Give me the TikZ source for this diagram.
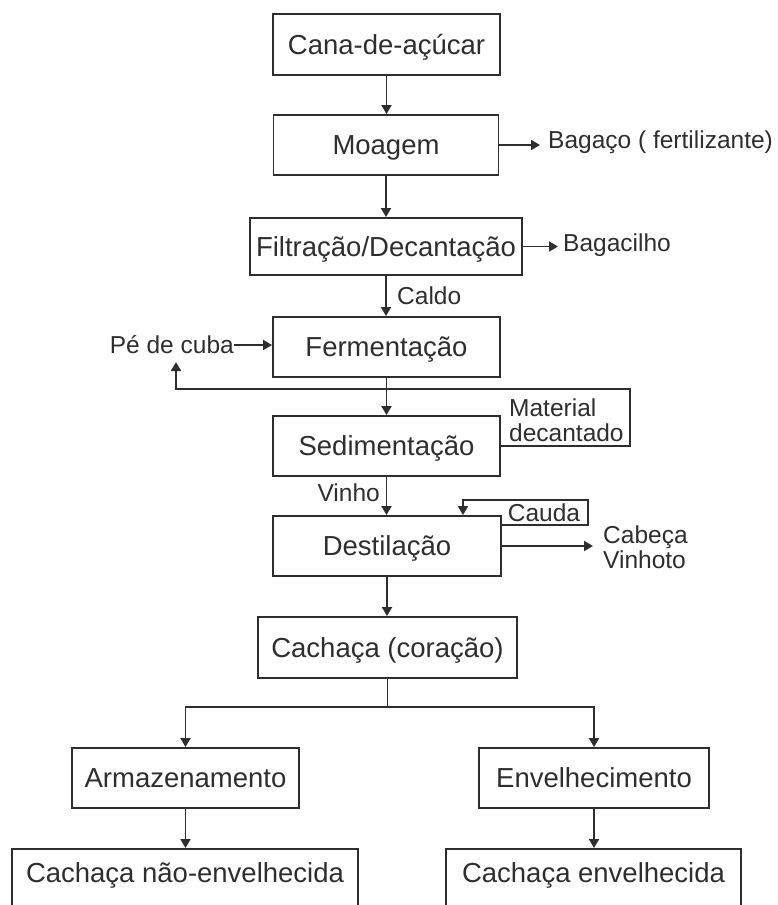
\documentclass[tikz,border=0pt]{standalone}
\usepackage{fontspec}
\setmainfont{Liberation Sans}
\usetikzlibrary{arrows.meta,calc}
\definecolor{ink}{HTML}{2E2E2E}
\begin{document}
\begin{tikzpicture}[x=1pt,y=-1pt,
  box/.style={draw=ink, line width=1.9pt, rectangle, inner sep=0pt, text height=19.5pt, text depth=0pt,
              font=\fontsize{27.5}{30}\selectfont, text=ink, align=center},
  lbl/.style={inner sep=0pt, font=\fontsize{24.5}{25}\selectfont, text=ink},
  arr/.style={draw=ink, line width=1.9pt, -{Triangle[length=9pt,width=10pt]}},
  ln/.style={draw=ink, line width=1.9pt}]
\useasboundingbox (0,0) rectangle (777,905);
\clip (0,0) rectangle (777,905);

% main column
\node[box, minimum width=227pt, minimum height=61pt] (cana)   at (386.5,44.5) {Cana-de-açúcar};
\node[box, minimum width=225pt, minimum height=60pt] (moagem) at (386,145)    {Moagem};
\node[box, minimum width=272pt, minimum height=57pt] (filt)   at (386,246.5)  {Filtração/Decantação};
\node[box, minimum width=227pt, minimum height=60pt] (ferm)   at (386.5,347)  {Fermentação};
\node[box, minimum width=227pt, minimum height=60pt] (sed)    at (386.5,446)  {Sedimentação};
\node[box, minimum width=228pt, minimum height=60pt] (dest)   at (387,546)    {Destilação};
\node[box, minimum width=259pt, minimum height=61pt] (cor)    at (387.5,647.5) {Cachaça (coração)};
\node[box, minimum width=227pt, minimum height=60pt] (arm)    at (185.5,778)  {Armazenamento};
\node[box, minimum width=230pt, minimum height=60pt] (env)    at (594,778)    {Envelhecimento};
\node[box, minimum width=346pt, anchor=north, inner ysep=14.5pt, text depth=60pt] (cne) at (185,848) {Cachaça não-envelhecida};
\node[box, minimum width=295pt, anchor=north, inner ysep=14.5pt, text depth=60pt] (ce)  at (593.5,848) {Cachaça envelhecida};

% side labels
\node[lbl, anchor=west] (bag)   at (548,142)   {Bagaço ( fertilizante)};
\node[lbl, anchor=west] (bagc)  at (563,245)   {Bagacilho};
\node[lbl, anchor=west] (caldo) at (397,296)   {Caldo};
\node[lbl, anchor=east] (pe)    at (234,345)   {Pé de cuba};
\node[lbl, anchor=west, align=left] (mat) at (509,420.5) {Material\\decantado};
\node[lbl, anchor=east] (vinho) at (380,493)   {Vinho};
\node[lbl] (cauda) at (544,513) {Cauda};
\node[lbl, anchor=west, align=left] (cv) at (603,547.5) {Cabeça\\Vinhoto};

% main arrows
\draw[arr] (cana.south) -- (cana.south |- moagem.north);
\draw[arr] (moagem.south) -- (moagem.south |- filt.north);
\draw[arr] (filt.south) -- (filt.south |- ferm.north);
\draw[arr] (ferm.south) -- (ferm.south |- sed.north);
\draw[arr] (sed.south) -- (sed.south |- dest.north);
\draw[arr] (dest.south) -- (dest.south |- cor.north);

% side outputs
\draw[arr] (moagem.east) -- ($(moagem.east -| bag.west)+(-8,0)$);
\draw[arr] (filt.east) -- ($(filt.east -| bagc.west)+(-5,0)$);
\draw[arr] (pe.east) -- (pe.east -| ferm.west);
\draw[arr] (dest.east) -- ($(dest.east -| cv.west)+(-10,0)$);

% recycle loop (material decantado -> pe de cuba)
\coordinate (mtr) at (630,389);
\coordinate (ltl) at (176,389);
\coordinate (petip) at (176,362);
\draw[arr] (sed.east) -| (mtr) -- (ltl) -- (petip);

% cauda loop
\coordinate (ca1) at (588,525);
\coordinate (ca2) at (588,500);
\coordinate (ca3) at (463,500);
\draw[arr] (dest.east |- ca1) -- (ca1) -- (ca2) -- (ca3) -- (ca3 |- dest.north);

% branch
\coordinate (br) at ($(cor.south)+(0,28)$);
\draw[ln] (cor.south) -- (br);
\draw[arr] (br) -| (arm.north);
\draw[arr] (br) -| (env.north);
\draw[arr] (arm.south) -- (arm.south |- cne.north);
\draw[arr] (env.south) -- (env.south |- ce.north);
\end{tikzpicture}
\end{document}
